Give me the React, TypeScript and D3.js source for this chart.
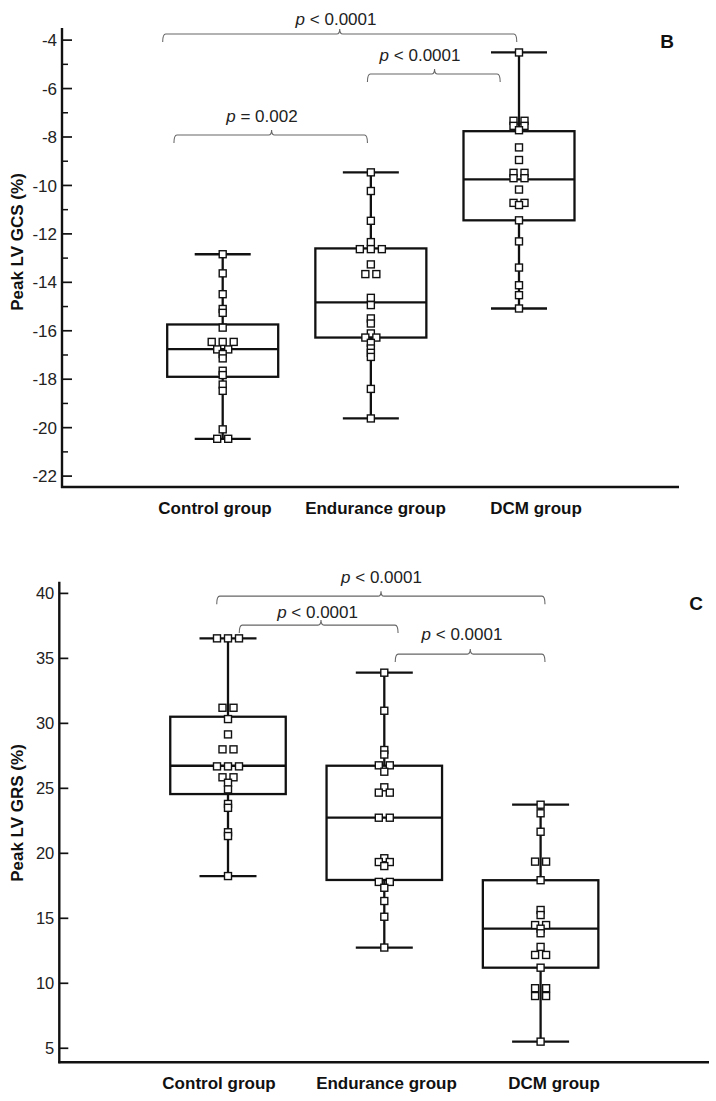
import React from 'react';
import * as d3 from 'd3';

// categories
const groups = ['Control group', 'Endurance group', 'DCM group'];

// panel B: peak LV GCS (%) - individual subjects
const gcsControl = [-12.84, -13.63, -14.49, -15.1, -15.26, -15.87, -16.46, -16.46, -16.46, -16.77, -16.77, -16.96, -17.14, -17.65, -17.83, -18.22, -18.48, -20.07, -20.46, -20.46];
const gcsEndurance = [-9.46, -10.23, -11.46, -12.34, -12.63, -12.63, -12.63, -13.26, -13.66, -13.66, -14.64, -14.94, -15.49, -15.7, -16.11, -16.28, -16.28, -16.5, -16.73, -16.91, -17.08, -18.4, -19.62];
const gcsDcm = [-4.51, -7.33, -7.33, -7.54, -7.54, -7.72, -8.43, -8.95, -9.48, -9.48, -9.7, -9.7, -10.17, -10.72, -10.72, -10.81, -11.44, -12.31, -13.39, -14.12, -14.53, -15.08];

// panel B box statistics (control, endurance, DCM)
const gcsLow = [-20.46, -19.62, -15.08];
const gcsQ1 = [-17.9, -16.28, -11.44];
const gcsMedian = [-16.76, -14.83, -9.75];
const gcsQ3 = [-15.74, -12.6, -7.76];
const gcsHigh = [-12.84, -9.46, -4.51];

const gcsTicks = [-4, -6, -8, -10, -12, -14, -16, -18, -20, -22];
const gcsMinorTicks = [-5, -7, -9, -11, -13, -15, -17, -19, -21];

// panel C: peak LV GRS (%)
const grsControl = [36.54, 36.54, 36.54, 31.2, 31.2, 30.33, 29.15, 28.0, 28.0, 26.69, 26.69, 26.69, 25.85, 25.85, 25.43, 24.92, 23.8, 23.5, 21.62, 21.33, 18.25];
const grsEndurance = [33.9, 30.97, 27.95, 27.6, 26.77, 26.77, 26.28, 25.08, 24.67, 24.67, 22.74, 22.74, 19.62, 19.33, 19.33, 19.02, 17.8, 17.8, 17.35, 16.33, 15.12, 12.75];
const grsDcm = [23.74, 23.08, 21.66, 19.36, 19.36, 17.93, 15.64, 15.25, 14.48, 14.48, 14.2, 13.85, 12.8, 12.18, 12.18, 11.2, 9.62, 9.62, 9.02, 9.02, 5.51];

const grsLow = [18.25, 12.75, 5.51];
const grsQ1 = [24.56, 17.95, 11.2];
const grsMedian = [26.74, 22.74, 14.2];
const grsQ3 = [30.51, 26.74, 17.93];
const grsHigh = [36.54, 33.9, 23.74];

const grsTicks = [40, 35, 30, 25, 20, 15, 10, 5];

// significance brackets: ends/hook/text in group-index units, level in data units
const gcsBrackets = [
  { from: -0.405, to: 1.985, hook: 0.79, level: -3.75, textX: 0.765, textLevel: -3.38, label: ' < 0.0001' },
  { from: -0.329, to: 0.977, hook: 0.33, level: -7.92, textX: 0.265, textLevel: -7.39, label: ' = 0.002' },
  { from: 0.977, to: 1.873, hook: 1.43, level: -5.4, textX: 1.332, textLevel: -4.85, label: ' < 0.0001' },
];
const grsBrackets = [
  { from: -0.072, to: 2.028, hook: 0.979, level: 39.79, textX: 0.982, textLevel: 40.77, label: ' < 0.0001' },
  { from: 0.072, to: 1.088, hook: 0.595, level: 37.56, textX: 0.573, textLevel: 38.08, label: ' < 0.0001' },
  { from: 1.07, to: 2.028, hook: 1.55, level: 35.33, textX: 1.497, textLevel: 36.41, label: ' < 0.0001' },
];

const FONT = 'Liberation Sans, Arial, Helvetica, sans-serif';

function spread(values) {
  // dots sharing a value are laid side by side
  const counts = d3.rollup(values, v => v.length, d => d);
  const seen = new Map();
  return values.map(v => {
    const n = counts.get(v);
    const i = seen.get(v) || 0;
    seen.set(v, i + 1);
    return { v, dx: (i - (n - 1) / 2) * 11 };
  });
}

function Panel(props) {
  const { cfg, series, low, q1, median, q3, high, ticks, minor, brackets, title, letter } = props;

  const y = d3.scaleLinear().domain(cfg.domain).range([cfg.bottom, cfg.top]);
  const xi = d3.scaleLinear().domain([0, 2]).range(cfg.centers);
  const xl = d3.scalePoint().domain(groups).range(cfg.labels);

  const half = cfg.boxW / 2, cap = cfg.capW / 2;

  return (
    <g fontFamily={FONT}>
      {/* axes */}
      <line x1={cfg.left} x2={cfg.left} y1={cfg.top} y2={cfg.bottom + 1} stroke="#111" strokeWidth={2.4} />
      <line x1={cfg.left - 1} x2={cfg.right} y1={cfg.bottom} y2={cfg.bottom} stroke="#111" strokeWidth={2.4} />
      {ticks.map(t => (
        <g key={'t' + t}>
          <line x1={cfg.left} x2={cfg.left + cfg.tick} y1={y(t)} y2={y(t)} stroke="#111" strokeWidth={1.7} />
          <text x={cfg.left - 5} y={y(t)} dy="0.36em" textAnchor="end" fontSize={cfg.tickFont} fill="#222">{t}</text>
        </g>
      ))}
      {minor.map(t => (
        <line key={'m' + t} x1={cfg.left} x2={cfg.left + 6} y1={y(t)} y2={y(t)} stroke="#111" strokeWidth={1.5} />
      ))}
      <text transform={`translate(${cfg.titleX},${cfg.titleY}) rotate(-90)`} textAnchor="middle" fontWeight="bold" fontSize={17} fill="#111">{title}</text>
      {groups.map(gname => (
        <text key={gname} x={xl(gname)} y={cfg.catY} textAnchor="middle" fontWeight="bold" fontSize={17} fill="#111">{gname}</text>
      ))}
      <text x={cfg.letterX} y={cfg.letterY} textAnchor="middle" fontWeight="bold" fontSize={19} fill="#111">{letter}</text>

      {/* boxes */}
      {groups.map((gname, i) => {
        const cx = xi(i);
        return (
          <g key={'b' + gname} stroke="#111" strokeWidth={2.3} fill="none">
            <rect x={cx - half} y={y(q3[i])} width={cfg.boxW} height={y(q1[i]) - y(q3[i])} />
            <line x1={cx - half} x2={cx + half} y1={y(median[i])} y2={y(median[i])} />
            <line x1={cx} x2={cx} y1={y(high[i])} y2={y(q3[i])} />
            <line x1={cx} x2={cx} y1={y(q1[i])} y2={y(low[i])} />
            <line x1={cx - cap} x2={cx + cap} y1={y(high[i])} y2={y(high[i])} />
            <line x1={cx - cap} x2={cx + cap} y1={y(low[i])} y2={y(low[i])} />
          </g>
        );
      })}

      {/* individual values */}
      {series.map((vals, i) => (
        <g key={'d' + i}>
          {spread(vals).map((d, j) => (
            <rect key={j} x={xi(i) + d.dx - 3.5} y={y(d.v) - 3.5} width={7} height={7} fill="#fff" stroke="#111" strokeWidth={1.4} />
          ))}
        </g>
      ))}

      {/* significance brackets */}
      {brackets.map((b, k) => {
        const x1 = xi(b.from), x2 = xi(b.to), hx = xi(b.hook), ly = y(b.level);
        const path = d3.path();
        path.moveTo(x1, ly + 8);
        path.quadraticCurveTo(x1, ly, x1 + 3, ly);
        path.lineTo(hx - 3, ly);
        path.quadraticCurveTo(hx, ly, hx, ly - 5);
        path.quadraticCurveTo(hx, ly, hx + 3, ly);
        path.lineTo(x2 - 3, ly);
        path.quadraticCurveTo(x2, ly, x2, ly + 8);
        return (
          <g key={'s' + k}>
            <path d={path.toString()} fill="none" stroke="#666" strokeWidth={1.1} />
            <text x={xi(b.textX)} y={y(b.textLevel)} textAnchor="middle" fontSize={17} fill="#222">
              <tspan fontStyle="italic">p</tspan>{b.label}
            </text>
          </g>
        );
      })}
    </g>
  );
}

const cfgB = {
  domain: [-22.45, -3.5], top: 28, bottom: 487, left: 62, right: 679,
  centers: [222.7, 519], labels: [215, 536], boxW: 111, capW: 56, tick: 10, tickFont: 17,
  titleX: 23, titleY: 242, catY: 514, letterX: 667, letterY: 48,
};
const cfgC = {
  domain: [3.92, 40.9], top: 581.7, bottom: 1062.3, left: 59.3, right: 709,
  centers: [228, 540.6], labels: [219, 554], boxW: 115.5, capW: 57, tick: 9, tickFont: 16.5,
  titleX: 23, titleY: 813, catY: 1089, letterX: 696, letterY: 610,
};

export default function App() {
  return (
    <svg width={716} height={1101} style={{ position: 'absolute', left: 0, top: 0, background: '#fff' }}>
      <rect width={716} height={1101} fill="#fff" />
      <Panel cfg={cfgB} series={[gcsControl, gcsEndurance, gcsDcm]} low={gcsLow} q1={gcsQ1} median={gcsMedian}
        q3={gcsQ3} high={gcsHigh} ticks={gcsTicks} minor={gcsMinorTicks} brackets={gcsBrackets}
        title="Peak LV GCS (%)" letter="B" />
      <Panel cfg={cfgC} series={[grsControl, grsEndurance, grsDcm]} low={grsLow} q1={grsQ1} median={grsMedian}
        q3={grsQ3} high={grsHigh} ticks={grsTicks} minor={[]} brackets={grsBrackets}
        title="Peak LV GRS (%)" letter="C" />
    </svg>
  );
}
